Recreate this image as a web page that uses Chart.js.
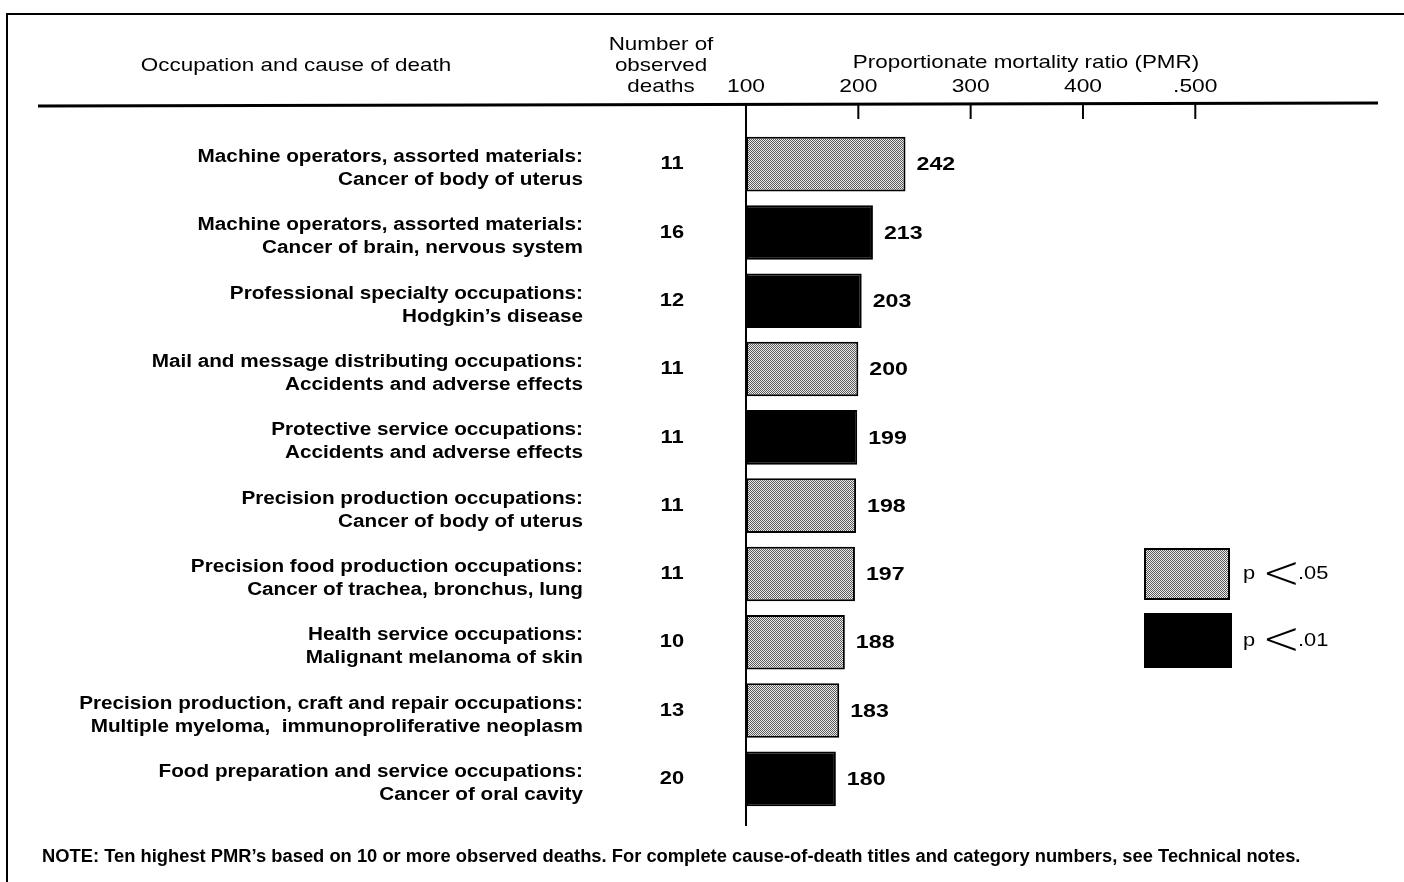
<!DOCTYPE html>
<html lang="en">
<head>
<meta charset="UTF-8">
<title>Ten highest PMR's</title>
<script src="https://cdn.jsdelivr.net/npm/chart.js"></script>
<style>
  html, body { margin: 0; padding: 0; background: #fff; }
  #wrap { width: 1404px; height: 882px; }
</style>
</head>
<body>
<div id="wrap"><canvas id="pmr" width="1404" height="882"></canvas></div>
<script>
// data
const occupations = [
  'Machine operators, assorted materials:',
  'Machine operators, assorted materials:',
  'Professional specialty occupations:',
  'Mail and message distributing occupations:',
  'Protective service occupations:',
  'Precision production occupations:',
  'Precision food production occupations:',
  'Health service occupations:',
  'Precision production, craft and repair occupations:',
  'Food preparation and service occupations:'
];
const causes = [
  'Cancer of body of uterus',
  'Cancer of brain, nervous system',
  'Hodgkin\u2019s disease',
  'Accidents and adverse effects',
  'Accidents and adverse effects',
  'Cancer of body of uterus',
  'Cancer of trachea, bronchus, lung',
  'Malignant melanoma of skin',
  'Multiple myeloma,  immunoproliferative neoplasm',
  'Cancer of oral cavity'
];
const deaths = [11, 16, 12, 11, 11, 11, 11, 10, 13, 20];
const pmr = [242, 213, 203, 200, 199, 198, 197, 188, 183, 180];
const signif = ['.05', '.01', '.01', '.05', '.01', '.05', '.05', '.05', '.05', '.01'];
const tickValues = [100, 200, 300, 400, 500];
const tickLabels = ['100', '200', '300', '400', '.500'];
const legendLabels = ['.05', '.01'];

const FONT = '"Liberation Sans", Arial, sans-serif';

// halftone-ish fill for p < .05
function makeStipple() {
  const c = document.createElement('canvas');
  c.width = 2; c.height = 2;
  const g = c.getContext('2d');
  g.fillStyle = '#ececec';
  g.fillRect(0, 0, 2, 2);
  g.fillStyle = '#5a5a5a';
  g.fillRect(0, 0, 1, 1);
  g.fillRect(1, 1, 1, 1);
  return document.getElementById('pmr').getContext('2d').createPattern(c, 'repeat');
}
const stipple = makeStipple();
const fillFor = s => s === '.05' ? stipple : '#000';

// the scanned type is wider than Liberation Sans, so stretch it a little
function text(ctx, str, x, y, font, align, sx) {
  ctx.save();
  ctx.font = font;
  ctx.textAlign = align;
  ctx.textBaseline = 'middle';
  ctx.translate(x, y);
  ctx.scale(sx || 1, 1);
  ctx.fillText(str, 0, 0);
  ctx.restore();
}

const decorations = {
  id: 'decorations',
  beforeDatasetsDraw(chart) {
    const ctx = chart.ctx;
    const x = chart.scales.x;
    ctx.save();
    ctx.strokeStyle = '#000';
    ctx.fillStyle = '#000';

    // frame (top and left edges of the scanned box)
    ctx.lineWidth = 2;
    ctx.beginPath();
    ctx.moveTo(7, 882); ctx.lineTo(7, 14); ctx.lineTo(1404, 14);
    ctx.stroke();

    // header rule
    ctx.lineWidth = 3;
    ctx.beginPath();
    ctx.moveTo(38, 106); ctx.lineTo(1378, 103);
    ctx.stroke();

    // ticks hang below the rule; the 100 line runs the full height
    ctx.lineWidth = 2;
    tickValues.forEach(v => {
      const px = x.getPixelForValue(v);
      ctx.beginPath();
      ctx.moveTo(px, 104); ctx.lineTo(px, v === 100 ? 826 : 119);
      ctx.stroke();
    });

    const hdr = '19px ' + FONT;
    text(ctx, 'Occupation and cause of death', 296, 66, hdr, 'center', 1.18);
    text(ctx, 'Number of', 661, 45, hdr, 'center', 1.18);
    text(ctx, 'observed', 661, 66, hdr, 'center', 1.18);
    text(ctx, 'deaths', 661, 87, hdr, 'center', 1.18);
    text(ctx, 'Proportionate mortality ratio (PMR)', 1026, 63, hdr, 'center', 1.18);
    tickValues.forEach((v, i) => {
      text(ctx, tickLabels[i], x.getPixelForValue(v), 87, hdr, 'center', 1.2);
    });
    ctx.restore();
  },
  afterDatasetsDraw(chart) {
    const ctx = chart.ctx;
    const x = chart.scales.x;
    const y = chart.scales.y;
    ctx.save();
    ctx.fillStyle = '#000';
    const lab = 'bold 18px ' + FONT;
    const num = 'bold 19px ' + FONT;
    pmr.forEach((v, i) => {
      const cy = y.getPixelForValue(i);
      text(ctx, occupations[i], 583, cy - 7, lab, 'right', 1.15);
      text(ctx, causes[i], 583, cy + 16, lab, 'right', 1.15);
      text(ctx, String(deaths[i]), 672, cy, num, 'center', 1.15);
      text(ctx, String(v), x.getPixelForValue(v) + 11, cy + 1, num, 'left', 1.22);
    });

    // legend
    const boxes = [[1145, 549, 84, 50], [1145, 614, 86, 53]];
    legendLabels.forEach((l, i) => {
      const [bx, by, bw, bh] = boxes[i];
      ctx.fillStyle = fillFor(l);
      ctx.fillRect(bx, by, bw, bh);
      ctx.lineWidth = 2;
      ctx.strokeStyle = '#000';
      ctx.strokeRect(bx, by, bw, bh);
      ctx.fillStyle = '#000';
      const ty = by + bh / 2;
      text(ctx, 'p', 1243, ty, '19px ' + FONT, 'left', 1.15);
      text(ctx, '<', 1262, ty + 2, '200 46px "DejaVu Sans", ' + FONT, 'left', 1);
      text(ctx, l, 1298, ty, '19px ' + FONT, 'left', 1.15);
    });

    // note
    text(ctx, 'NOTE: Ten highest PMR\u2019s based on 10 or more observed deaths. For complete cause-of-death titles and category numbers, see Technical notes.',
      42, 857, 'bold 18px ' + FONT, 'left', 1.019);
    ctx.restore();
  }
};

new Chart(document.getElementById('pmr'), {
  type: 'bar',
  data: {
    labels: occupations.map((o, i) => o + ' ' + causes[i]),
    datasets: [{
      data: pmr,
      base: 100,
      backgroundColor: signif.map(fillFor),
      borderColor: '#000',
      borderWidth: 2,
      borderSkipped: false,
      categoryPercentage: 1,
      barPercentage: 0.8
    }]
  },
  options: {
    indexAxis: 'y',
    responsive: false,
    animation: false,
    events: [],
    layout: { padding: { left: 746, right: 102, top: 130, bottom: 69 } },
    scales: {
      x: { display: false, min: 100, max: 595 },
      y: { display: false }
    },
    plugins: { legend: { display: false }, tooltip: { enabled: false } }
  },
  plugins: [decorations]
});
</script>
</body>
</html>
